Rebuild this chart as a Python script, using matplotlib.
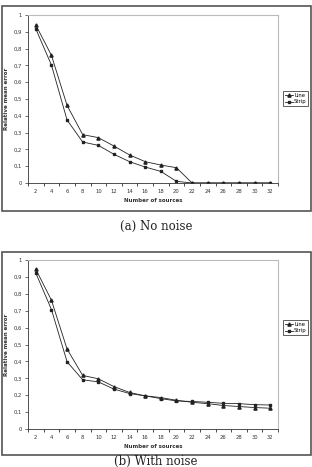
import matplotlib
matplotlib.use("Agg")
import matplotlib.pyplot as plt
from matplotlib.patches import Rectangle
from matplotlib.ticker import FuncFormatter

sources = [2, 4, 6, 8, 10, 12, 14, 16, 18, 20, 22, 24, 26, 28, 30, 32]
yticks = [0, 0.1, 0.2, 0.3, 0.4, 0.5, 0.6, 0.7, 0.8, 0.9, 1]

# (a) no noise
line_a = [0.94, 0.76, 0.462, 0.288, 0.27, 0.22, 0.167, 0.127, 0.107, 0.091,
          0, 0, 0, 0, 0, 0]
strip_a = [0.917, 0.702, 0.375, 0.244, 0.224, 0.171, 0.127, 0.095, 0.069, 0.01,
           0, 0, 0, 0, 0, 0]

# (b) with noise
line_b = [0.945, 0.762, 0.473, 0.317, 0.297, 0.251, 0.216, 0.196, 0.186, 0.170,
          0.158, 0.150, 0.139, 0.133, 0.127, 0.123]
strip_b = [0.923, 0.707, 0.398, 0.291, 0.279, 0.236, 0.210, 0.196, 0.180, 0.166,
           0.163, 0.158, 0.152, 0.150, 0.144, 0.142]

W, H = 312, 467
fig = plt.figure(figsize=(W / 100, H / 100), dpi=100)


def fx(px):
    return px / W


def fy(py):
    return 1 - py / H


def panel(frame_top, frame_bot, ax_top, ax_bot, leg_top, line, strip, caption, cap_y):
    # outer frame
    fig.patches.append(Rectangle((fx(1.5), fy(frame_bot)), fx(309), (frame_bot - frame_top) / H,
                                 transform=fig.transFigure, fill=False,
                                 edgecolor="#555555", linewidth=1.2))
    ax = fig.add_axes([fx(28), fy(ax_bot), fx(250), (ax_bot - ax_top) / H])
    x = range(len(sources))
    ax.plot(x, line, color="#222222", lw=0.6, marker="^", ms=2.3, label="Line")
    ax.plot(x, strip, color="#222222", lw=0.6, marker="s", ms=2.0, label="Strip")
    ax.set_xlim(-0.5, len(sources) - 0.5)
    ax.set_ylim(0, 1)
    ax.set_yticks(yticks)
    ax.yaxis.set_major_formatter(FuncFormatter(
        lambda v, p: "0" if v == 0 else ("1" if v == 1 else f"{v:.1f}".replace(".", ","))))
    ax.set_xticks([i - 0.5 for i in range(len(sources) + 1)])
    ax.set_xticklabels([])
    ax.set_xticks(list(x), minor=True)
    ax.set_xticklabels([str(s) for s in sources], minor=True)
    ax.tick_params(axis="x", which="major", length=2.5, width=0.5, direction="out")
    ax.tick_params(axis="x", which="minor", length=0, labelsize=3.8, pad=4, colors="#333333")
    ax.tick_params(axis="y", length=2.5, width=0.5, labelsize=3.8, pad=2, colors="#333333")
    for side in ["top", "right"]:
        ax.spines[side].set_color("#bbbbbb")
        ax.spines[side].set_linewidth(0.8)
    for side in ["left", "bottom"]:
        ax.spines[side].set_color("#333333")
        ax.spines[side].set_linewidth(0.6)
    ax.set_xlabel("Number of sources", fontsize=4, fontweight="bold", labelpad=3, color="#333333")
    ax.set_ylabel("Relative mean error", fontsize=4, fontweight="bold", labelpad=3, color="#333333")
    leg = ax.legend(loc="upper left", bbox_to_anchor=(fx(283), fy(leg_top)),
                    bbox_transform=fig.transFigure, fontsize=3.8, frameon=True,
                    fancybox=False, handlelength=1.6, handletextpad=0.2,
                    borderpad=0.3, labelspacing=0.35, borderaxespad=0)
    leg.get_frame().set_edgecolor("#333333")
    leg.get_frame().set_linewidth(0.7)
    fig.text(0.5, fy(cap_y), caption, ha="center", va="center",
             fontsize=8.5, family="DejaVu Serif", color="#222222")
    return ax


panel(6, 211, 15, 183, 91, line_a, strip_a, "(a) No noise", 226)
panel(252, 455, 260, 429, 320, line_b, strip_b, "(b) With noise", 461)

fig.savefig("out.png", dpi=100)
